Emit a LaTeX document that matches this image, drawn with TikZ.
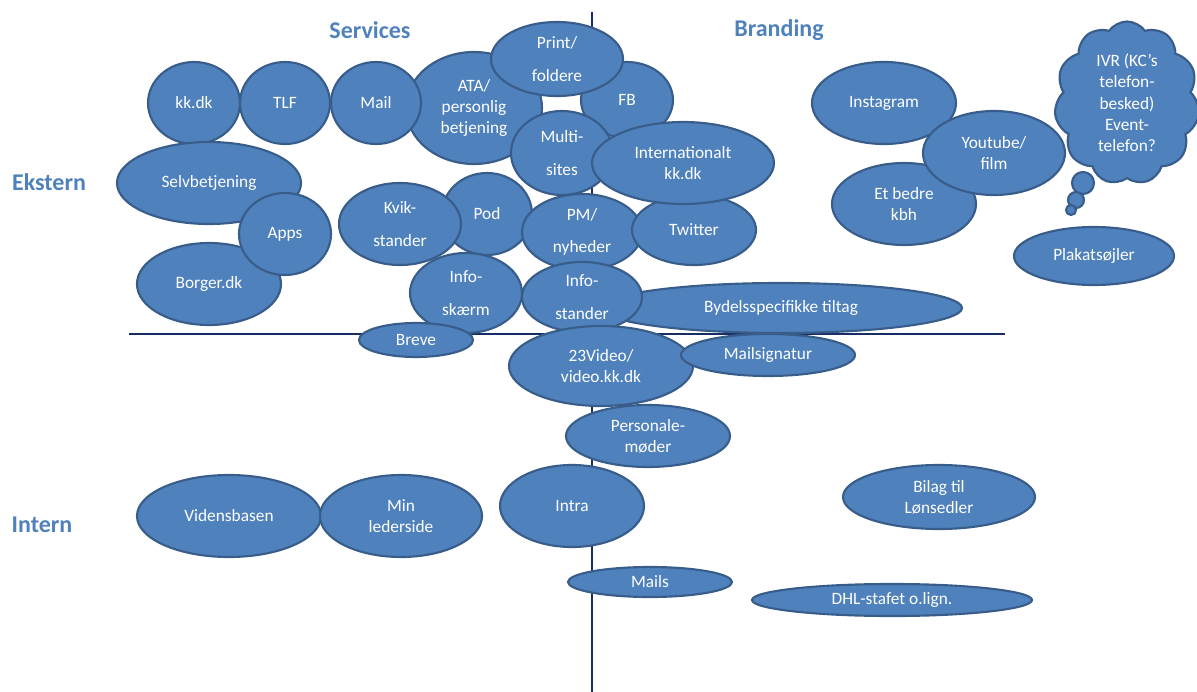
\documentclass[tikz,border=0pt]{standalone}
\usepackage{fontspec}
\setmainfont{Carlito}
\usetikzlibrary{shapes.geometric,shapes.symbols}
\definecolor{blaa}{HTML}{4F81BD}
\definecolor{kant}{HTML}{385D8A}
\definecolor{akseblaa}{HTML}{162E64}
\begin{document}
\begin{tikzpicture}[x=0.75pt,y=-0.75pt,
    kanal/.style 2 args={ellipse,draw=kant,fill=blaa,line width=1.6pt,text=white,
      inner sep=0pt,align=center,minimum width=#1*1.5pt,minimum height=#2*1.5pt,
      font={\fontsize{13}{16}\selectfont}},
    luft/.style={font={\fontsize{13}{24.5}\selectfont}},
    sky/.style={cloud,cloud puffs=11,cloud puff arc=110,aspect=0.9,draw=kant,fill=blaa,
      line width=1.6pt,text=white,inner sep=0pt,align=center,
      minimum width=145*0.75pt,minimum height=163*0.75pt,
      font={\fontsize{13}{16}\selectfont}},
    boble/.style={circle,draw=kant,fill=blaa,line width=1.6pt,inner sep=0pt},
    akse/.style={draw=akseblaa,line width=1.5pt},
    overskrift/.style={text=blaa,font={\fontsize{18}{22}\selectfont\bfseries}}]
      \useasboundingbox (0,0) rectangle (1197,692);
      \coordinate (top) at (592,12);
      \coordinate (bund) at (592,692);
      \coordinate (venstre) at (129,334);
      \coordinate (hoejre) at (1005,334);
      \draw[akse] (top) -- (bund);
      \draw[akse] (venstre) -- (hoejre);
      \draw
        (370,30) node[overskrift] (services){Services}
        (779,30) node[overskrift] (branding){Branding}
        (49,182) node[overskrift] (ekstern){Ekstern}
        (42,525) node[overskrift] (intern){Intern};
      % ekstern / services
      \draw
        (474,108) node[kanal={68}{56}] (ata){ATA/\\personlig\\betjening}
        (194,103) node[kanal={46}{41}] (kkdk){kk.dk}
        (285,103) node[kanal={45}{41}] (tlf){TLF}
        (376,103) node[kanal={45}{41}] (mail){Mail}
        (627,100) node[kanal={46}{38}] (fb){FB}
        (557,59) node[kanal={66}{37},luft] (print){Print/\\foldere}
        (562,153) node[kanal={51}{42},luft] (multi){Multi-\\sites}
        (209,183) node[kanal={92}{41}] (selv){Selvbetjening}
        (209,284) node[kanal={72}{41}] (borger){Borger.dk}
        (285,234) node[kanal={46}{41}] (apps){Apps}
        (487,214) node[kanal={45}{41}] (pod){Pod}
        (400,224) node[kanal={61}{41},luft] (kvik){Kvik-\\stander}
        (582,232) node[kanal={60}{38},luft] (pm){PM/\\nyheder}
        (694,230) node[kanal={62}{35}] (twitter){Twitter}
        (683,163) node[kanal={91}{41}] (intl){Internationalt\\kk.dk}
        (781,308) node[kanal={181}{25}] (bydel){Bydelsspecifikke tiltag}
        (582,297) node[kanal={60}{35},luft] (infost){Info-\\stander}
        (466,293) node[kanal={56}{40},luft] (infosk){Info-\\skærm}
        (416,340) node[kanal={57}{17}] (breve){Breve};
      % intern
      \draw
        (601,366) node[kanal={92}{40}] (video){23Video/\\video.kk.dk}
        (768,355) node[kanal={87}{21}] (mailsig){Mailsignatur}
        (648,436) node[kanal={82}{31}] (personale){Personale-\\møder}
        (572,506) node[kanal={72}{41}] (intra){Intra}
        (650,582) node[kanal={82}{15}] (mails){Mails}
        (892,600) node[kanal={140}{16}] (dhl){DHL-stafet o.lign.}
        (939,497) node[kanal={96}{32}] (bilag){Bilag til\\Lønsedler}
        (229,516) node[kanal={92}{41}] (videns){Vidensbasen}
        (401,516) node[kanal={81}{41}] (leder){Min\\lederside};
      % ekstern / branding
      \draw
        (1127,103) node[sky] (ivr){IVR (KC’s\\telefon-\\besked)\\Event-\\telefon?}
        (1083,183) node[boble,minimum size=22*0.75pt] (b1){}
        (1076,200) node[boble,minimum size=16*0.75pt] (b2){}
        (1071,210) node[boble,minimum size=10*0.75pt] (b3){}
        (884,103) node[kanal={72}{41}] (insta){Instagram}
        (904,204) node[kanal={72}{41}] (kbh){Et bedre\\kbh}
        (994,153) node[kanal={71}{42}] (youtube){Youtube/\\film}
        (1094,256) node[kanal={80}{29}] (plakat){Plakatsøjler};
    \end{tikzpicture}
\end{document}
